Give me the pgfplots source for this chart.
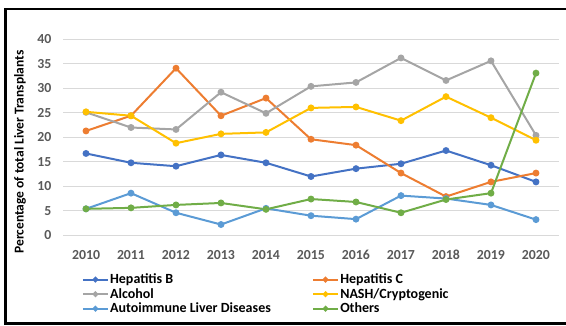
\documentclass[border=0pt]{standalone}
\usepackage{fontspec}
\setmainfont{Carlito}
\usepackage{pgfplots}
\pgfplotsset{compat=1.18}
\definecolor{cHB}{HTML}{4472C4}
\definecolor{cHC}{HTML}{ED7D31}
\definecolor{cAL}{HTML}{A5A5A5}
\definecolor{cNA}{HTML}{FFC000}
\definecolor{cAI}{HTML}{5B9BD5}
\definecolor{cOT}{HTML}{70AD47}
\definecolor{gridc}{HTML}{D9D9D9}
\definecolor{tickc}{HTML}{595959}
\begin{document}
\begin{tikzpicture}[x=1pt,y=1pt]
\useasboundingbox (0,0) rectangle (566,325);
\begin{axis}[
  at={(63.5pt,89.7pt)}, anchor=south west,
  width=495pt, height=196pt, scale only axis,
  xmin=2009.5, xmax=2020.5, ymin=0, ymax=40,
  xtick={2010,...,2020}, ytick={0,5,...,40},
  /pgf/number format/assume math mode=true,
  xticklabel={\pgfmathprintnumber[1000 sep={}]{\tick}},
  ymajorgrids, grid style={gridc, line width=0.8pt},
  axis line style={draw=none},
  major tick length=0pt,
  tick label style={font=\fontsize{13.8}{15}\selectfont\bfseries, text=tickc},
  xticklabel style={anchor=base, yshift=-24.5pt},
  yticklabel style={anchor=east, inner sep=0pt, xshift=-12pt},
  clip=false,
  legend columns=2,
  legend cell align=left,
  legend style={at={(axis description cs:0.0368,-0.190)}, anchor=north west,
    draw=none, fill=none, inner sep=0pt, row sep=0.8pt,
    font=\fontsize{14}{15}\selectfont\bfseries,
    nodes={inner sep=1.2pt},
    /tikz/every even column/.append style={column sep=40pt}},
  legend image code/.code={%
    \draw[#1] (0pt,0pt) -- (25pt,0pt);
    \draw[#1, only marks, mark size=1.8pt] plot coordinates {(12.5pt,0pt)};},
  every axis plot/.append style={line width=2pt, mark=*, mark size=2.4pt},
]
\addplot[cHB, mark options={fill=cHB}] coordinates {(2010,16.7)(2011,14.8)(2012,14.1)(2013,16.4)(2014,14.8)(2015,12.0)(2016,13.6)(2017,14.6)(2018,17.3)(2019,14.3)(2020,10.9)};
\addlegendentry{Hepatitis B}
\addplot[cHC, mark options={fill=cHC}] coordinates {(2010,21.3)(2011,24.4)(2012,34.1)(2013,24.4)(2014,28.0)(2015,19.6)(2016,18.4)(2017,12.7)(2018,7.9)(2019,10.9)(2020,12.7)};
\addlegendentry{Hepatitis C}
\addplot[cAL, mark options={fill=cAL}] coordinates {(2010,25.1)(2011,22.0)(2012,21.6)(2013,29.2)(2014,24.9)(2015,30.4)(2016,31.2)(2017,36.2)(2018,31.6)(2019,35.6)(2020,20.4)};
\addlegendentry{Alcohol}
\addplot[cNA, mark options={fill=cNA}] coordinates {(2010,25.2)(2011,24.4)(2012,18.8)(2013,20.7)(2014,21.0)(2015,26.0)(2016,26.2)(2017,23.4)(2018,28.3)(2019,24.0)(2020,19.4)};
\addlegendentry{NASH/Cryptogenic}
\addplot[cAI, mark options={fill=cAI}] coordinates {(2010,5.4)(2011,8.6)(2012,4.6)(2013,2.2)(2014,5.5)(2015,4.0)(2016,3.3)(2017,8.1)(2018,7.5)(2019,6.2)(2020,3.2)};
\addlegendentry{Autoimmune Liver Diseases}
\addplot[cOT, mark options={fill=cOT}] coordinates {(2010,5.4)(2011,5.6)(2012,6.2)(2013,6.6)(2014,5.3)(2015,7.4)(2016,6.8)(2017,4.6)(2018,7.3)(2019,8.6)(2020,33.1)};
\addlegendentry{Others}
\end{axis}
\node[rotate=90, font=\fontsize{13.5}{14}\selectfont\bfseries] at (20,173) {Percentage of total Liver Transplants};
\draw[line width=2.5pt] (572,1.7) -- (5.3,1.7) -- (5.3,315.8) -- (572,315.8);
\end{tikzpicture}
\end{document}
